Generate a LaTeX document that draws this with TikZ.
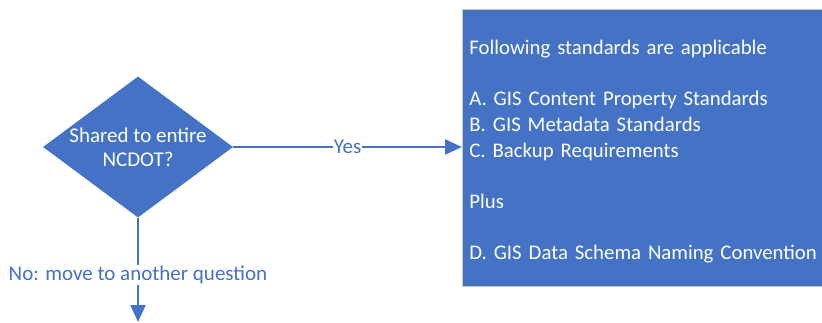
\documentclass[tikz,border=0pt]{standalone}
\usepackage{fontspec}
\setmainfont{Carlito}
\definecolor{officeblue}{HTML}{4472C4}
\definecolor{boxedge}{HTML}{C9C9C9}
\usetikzlibrary{shapes.geometric,arrows.meta,positioning}

\begin{document}
\begin{tikzpicture}[x=1pt, y=-1pt,
    decision/.style={diamond, fill=officeblue, inner sep=0pt, minimum width=190pt, minimum height=141pt},
    infobox/.style={rectangle, fill=officeblue, draw=boxedge, line width=0.8pt, text=white, align=left,
        text width=366pt, inner xsep=7pt, minimum height=277pt, anchor=north west},
    flow/.style={draw=officeblue, line width=2.2pt, -{Triangle[length=17pt,width=15pt]}},
    flowlabel/.style={fill=white, text=officeblue, inner sep=1pt}]
    \useasboundingbox (0,0) rectangle (822,322);
    \node[decision] (shared) at (138,147) {};
    \node[align=center, text=white, font=\fontsize{21}{24}\selectfont] (sharedtext) at (shared) {Shared to entire\\NCDOT?};
    \node[infobox, font=\fontsize{20.8}{25.6}\selectfont] (standards) at (462,9) {\rule{0pt}{22pt}Following standards are applicable\\[25.6pt]
        A. GIS Content Property Standards\\
        B. GIS Metadata Standards\\
        C. Backup Requirements\\[25.6pt]
        Plus\\[25.6pt]
        D. GIS Data Schema Naming Convention};
    \coordinate (next) at (138,322);
    \draw[flow] (shared.east) -- node[flowlabel, font=\fontsize{21}{23}\selectfont] {Yes} (standards.west |- shared.east);
    \draw[flow] (shared.south) -- node[flowlabel, pos=0.55, font=\fontsize{21}{23}\selectfont] {No: move to another question} (next);
\end{tikzpicture}
\end{document}
